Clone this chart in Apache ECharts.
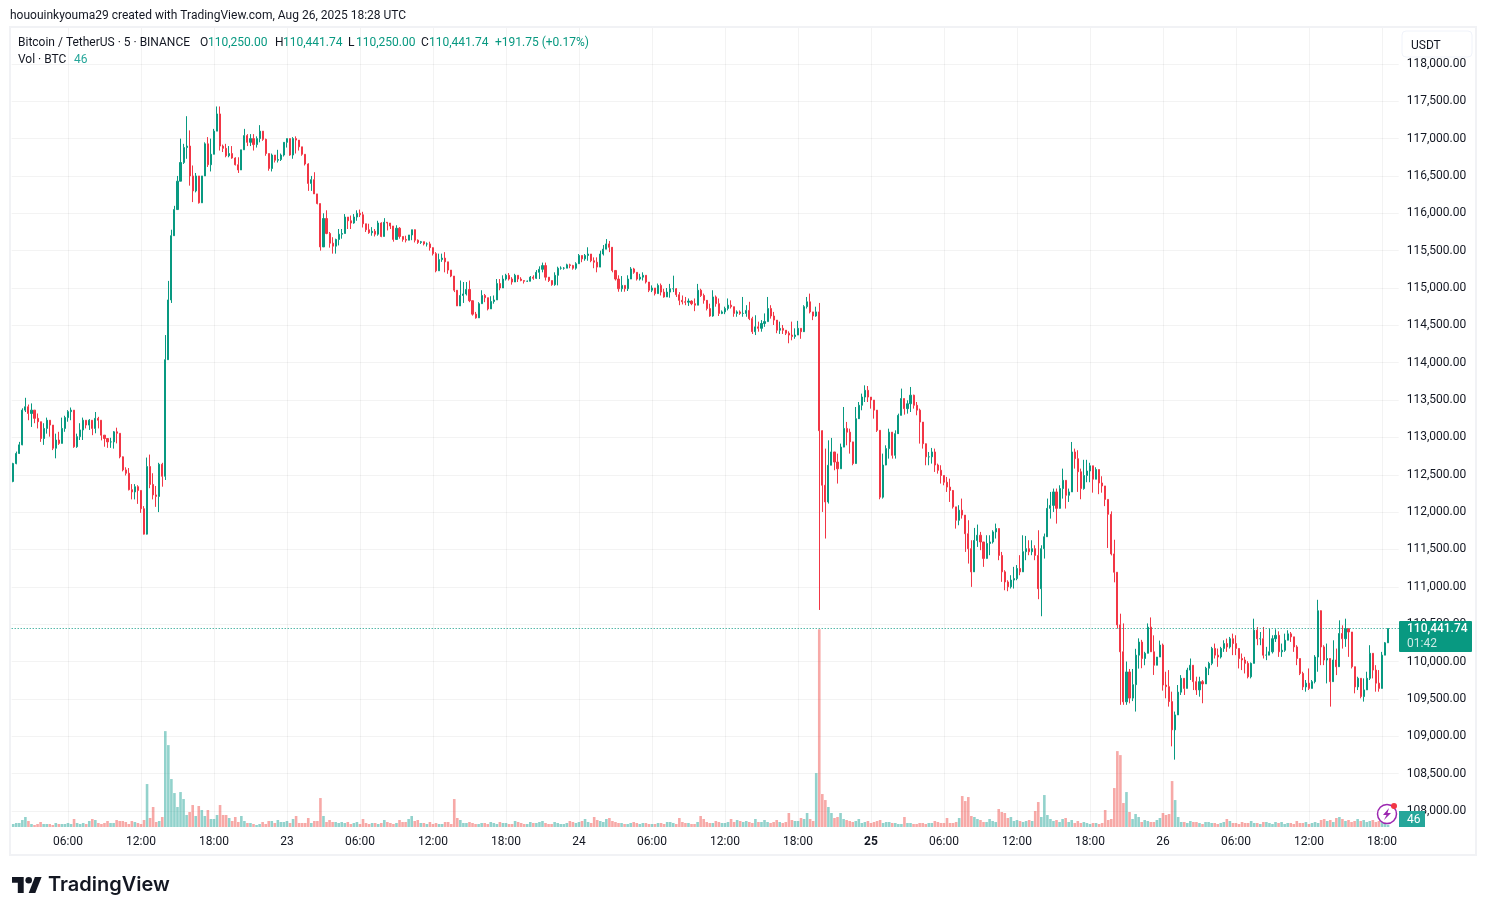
<!DOCTYPE html>
<html><head><meta charset="utf-8"><style>html,body{margin:0;padding:0;background:#fff}#c{width:1486px;height:915px}</style>
<script src="https://cdn.jsdelivr.net/npm/echarts@6/dist/echarts.min.js"></script></head><body><div id="c"></div><script>
// 15-minute candles: [open, close, low, high]
const aug22=[
[112410,112650,112400,112660],[112650,112785,112640,112810],[112785,112900,112780,112940],[112900,113365,112895,113390],[113365,113410,113340,113530],[113410,113320,113230,113440],
[113320,113365,113140,113455],[113365,113255,113190,113365],[113255,113210,113120,113320],[113210,112985,112940,113210],[112985,113120,112900,113190],[113120,113230,113050,113265],
[113230,113165,113010,113230],[113165,112855,112830,113165],[112855,112965,112720,113050],[112965,112920,112900,113075],[112920,113120,112920,113265],[113120,113265,113075,113290],
[113265,113345,113210,113365],[113345,113365,113230,113400],[113365,112875,112860,113365],[112875,113010,112860,113050],[113010,113100,112965,113190],[113100,113230,112965,113265],
[113230,113165,113120,113230],[113165,113230,113100,113245],[113230,113120,113030,113230],[113120,113255,113055,113340],[113255,113230,113120,113275],[113230,113030,112960,113230],
[113030,112985,112875,113030],[112985,112940,112860,112985],[112940,112940,112860,112995],[112940,113075,112850,113085],[113075,113055,112920,113130],[113055,112740,112720,113055],
[112740,112565,112545,112745],[112565,112520,112490,112600],[112520,112300,112290,112590],[112300,112270,112170,112375],[112270,112340,112170,112375],[112340,112290,112110,112360],
[112290,112045,111990,112290],[112045,111705,111700,112080],[111705,112610,111700,112730],[112610,112370,112320,112770],[112370,112230,112170,112520],[112230,112210,112070,112350],
[112210,112640,112000,112660],[112640,112480,112340,112660],[112480,114040,112430,114370],[114040,114840,114040,115095],[114840,115700,114800,115780],[115700,116050,115700,116100],
[116050,116430,116050,116500],[116430,116680,116430,117000],[116680,116880,116660,116930],[116880,116900,116730,117300],[116900,116500,116370,117110],[116500,116300,116150,116640],
[116300,116500,116280,116540],[116500,116140,116130,116500],[116140,116500,116140,116500],[116500,116930,116500,116950],[116930,116650,116620,117020],[116650,116790,116560,117000],
[116790,117100,116790,117130],[117100,117330,117100,117430],[117330,116900,116840,117430],[116900,116870,116820,116920],[116870,116770,116750,116930],[116770,116800,116750,116900],
[116800,116740,116730,116900],[116740,116650,116640,116750],[116650,116580,116540,116750],[116580,116850,116580,116850],[116850,117040,116850,117130],[117040,116950,116900,117060],
[116950,117000,116900,117060],[117000,116920,116840,117060],[116920,117000,116880,117030],[117000,117100,116950,117180],[117100,116990,116970,117100],[116990,116800,116770,117000],
[116800,116600,116570,116800],[116600,116780,116560,116800],[116780,116710,116680,116780],[116710,116720,116680,116850],[116720,116780,116700,116800],[116780,116950,116760,116950]];
const aug23=[
[116950,117000,116880,117000],[117000,116780,116770,117000],[116780,117000,116730,117020],[117000,116980,116800,117030],[116980,116890,116840,116980],[116890,116790,116770,116890],
[116790,116660,116640,116790],[116660,116400,116300,116670],[116400,116450,116300,116500],[116450,116260,116260,116550],[116260,116130,116120,116260],[116130,115550,115500,116130],
[115550,115930,115550,116000],[115930,115730,115720,116040],[115730,115600,115540,115750],[115600,115560,115460,115680],[115560,115650,115460,115660],[115650,115720,115570,115790],
[115720,115730,115660,115790],[115730,115950,115730,115990],[115950,115900,115790,115950],[115900,115870,115790,115970],[115870,115950,115860,115990],[115950,116000,115900,116040],
[116000,115980,115950,116050],[115980,115860,115810,116020],[115860,115780,115750,115860],[115780,115740,115725,115860],[115740,115760,115700,115815],[115760,115720,115690,115790],
[115720,115870,115700,115900],[115870,115690,115680,115880],[115690,115880,115690,115935],[115880,115870,115770,115880],[115870,115830,115790,115870],[115830,115650,115620,115830],
[115650,115800,115650,115840],[115800,115690,115660,115815],[115690,115650,115620,115690],[115650,115640,115610,115700],[115640,115710,115640,115710],[115710,115780,115640,115780],
[115780,115640,115610,115725],[115640,115610,115590,115650],[115610,115620,115590,115630],[115620,115590,115570,115620],[115590,115590,115555,115610],[115590,115540,115500,115620],
[115540,115460,115435,115515],[115460,115230,115210,115480],[115230,115380,115230,115460],[115380,115400,115350,115460],[115400,115350,115210,115480],[115350,115240,115190,115350],
[115240,115160,115145,115240],[115160,114970,114945,115160],[114970,114760,114760,114970],[114760,114900,114760,115100],[114900,114920,114800,115080],[114920,114980,114900,115080],
[114980,114830,114810,115100],[114830,114650,114630,114830],[114650,114600,114590,114680],[114600,114790,114600,114810],[114790,114900,114790,114970],[114900,114870,114810,114920],
[114870,114720,114700,114870],[114720,114820,114720,114890],[114820,114840,114790,114900],[114840,115060,114840,115120],[115060,115000,114970,115120],[115000,115120,115000,115170],
[115120,115170,115100,115190],[115170,115120,115100,115200],[115120,115080,115045,115145],[115080,115170,115080,115190],[115170,115120,115080,115170],[115120,115100,115090,115145],
[115100,115090,115060,115100],[115090,115090,115080,115100],[115090,115145,115090,115160],[115145,115130,115110,115170],[115130,115210,115120,115240],[115210,115250,115120,115290],
[115250,115300,115210,115340],[115300,115145,115100,115340],[115145,115100,115080,115145],[115100,115045,115030,115100],[115045,115170,115030,115210],[115170,115265,115035,115285],
[115265,115265,115245,115290],[115265,115265,115245,115280],[115265,115310,115265,115325],[115310,115300,115265,115325],[115300,115265,115245,115310],[115265,115325,115245,115345]];
const aug24=[
[115325,115435,115325,115455],[115435,115390,115345,115435],[115390,115435,115365,115455],[115435,115455,115365,115545],[115455,115365,115345,115455],[115365,115345,115265,115410],
[115345,115280,115210,115410],[115280,115455,115300,115500],[115455,115520,115435,115575],[115520,115590,115545,115655],[115590,115545,115480,115630],[115545,115235,115210,115520],
[115235,115120,115100,115235],[115120,114990,114950,115170],[114990,115035,114950,115160],[115035,114990,114950,115035],[114990,115120,114960,115170],[115120,115255,115120,115280],
[115255,115210,115190,115270],[115210,115120,115100,115210],[115120,115145,115100,115190],[115145,115170,115100,115210],[115170,115080,115060,115170],[115080,114970,114945,115080],
[114970,115000,114945,115035],[115000,114925,114900,115000],[114925,115035,114925,115060],[115035,114945,114900,115060],[114945,114880,114870,114990],[114880,114945,114880,115000],
[114945,114990,114870,115055],[114990,114990,114945,115165],[114990,114910,114880,115000],[114910,114835,114770,114945],[114835,114815,114780,114900],[114815,114810,114770,114880],
[114810,114825,114760,114860],[114825,114790,114770,114835],[114790,114770,114690,114860],[114770,114970,114770,115055],[114970,114900,114880,114990],[114900,114835,114790,114925],
[114835,114725,114700,114790],[114725,114625,114615,114790],[114625,114880,114615,114970],[114880,114790,114750,114900],[114790,114660,114625,114860],[114660,114680,114650,114700],
[114680,114725,114650,114750],[114725,114770,114700,114860],[114770,114750,114725,114835],[114750,114660,114615,114750],[114660,114680,114615,114700],[114680,114660,114640,114700],
[114660,114660,114615,114880],[114660,114700,114615,114770],[114700,114590,114570,114815],[114590,114415,114385,114615],[114415,114480,114370,114635],[114480,114460,114415,114550],
[114460,114525,114415,114570],[114525,114550,114480,114660],[114550,114725,114550,114880],[114725,114625,114590,114770],[114625,114570,114505,114680],[114570,114435,114395,114505],
[114435,114460,114385,114550],[114460,114435,114385,114505],[114435,114395,114370,114435],[114395,114370,114260,114420],[114370,114350,114300,114550],[114350,114370,114320,114460],
[114370,114460,114370,114560],[114460,114415,114320,114460],[114415,114750,114460,114770],[114750,114815,114725,114880],[114815,114680,114660,114925],[114680,114625,114570,114680],
[114625,114680,114615,114750],[114680,113090,110690,114800],[113090,112360,112002,113095],[112360,112136,111646,112850],[112136,112627,112114,112961],[112627,112805,112627,112993],
[112805,112670,112560,112805],[112670,112580,112382,112783],[112580,112870,112580,112917],[112870,113120,112872,113407],[113120,113070,112894,113207],[113070,112940,112783,113117],
[112940,112650,112627,112917],[112650,113250,112649,113407],[113250,113430,113274,113474],[113430,113540,113363,113586],[113540,113630,113474,113697],[113630,113540,113474,113688]];
const aug25=[
[113540,113500,113385,113540],[113500,113365,113251,113497],[113365,113095,113073,113251],[113095,112200,112172,113095],[112200,112630,112181,112783],[112630,112850,112627,112894],
[112850,113070,112716,113117],[113070,112760,112716,113073],[112760,113050,112716,113095],[113050,113295,113073,113318],[113295,113520,113296,113653],[113520,113385,113305,113519],
[113385,113450,113318,113497],[113450,113565,113340,113675],[113565,113430,113385,113572],[113430,113365,113296,113474],[113365,113205,112917,113385],[113205,112915,112850,113064],
[112915,112740,112627,112850],[112740,112740,112627,112805],[112740,112805,112649,112859],[112805,112630,112538,112850],[112630,112560,112515,112649],[112560,112490,112382,112627],
[112490,112400,112359,112493],[112400,112335,112270,112471],[112335,112290,112136,112448],[112290,112070,112047,112181],[112070,111890,111779,112070],[111890,112025,111824,112092],
[112025,111960,111913,112181],[111960,111710,111467,111958],[111710,111510,111311,111891],[111510,111200,110999,111623],[111200,111620,111200,111788],[111620,111690,111534,111833],
[111690,111600,111490,111735],[111600,111380,111267,111579],[111380,111580,111378,111690],[111580,111600,111423,111690],[111600,111735,111579,111757],[111735,111780,111646,111846],
[111780,111420,111356,111779],[111420,111200,111066,111467],[111200,111065,110954,111222],[111065,111000,110941,111088],[111000,111090,110977,111155],[111090,111110,110977,111267],
[111110,111245,111088,111291],[111245,111200,111155,111423],[111200,111470,111200,111690],[111470,111510,111356,111681],[111510,111470,111423,111623],[111470,111510,111423,111623],
[111510,111420,111356,111556],[111420,110975,110834,111757],[110975,111510,110606,111556],[111510,111670,111378,111713],[111670,112050,111668,112181],[112050,112090,111913,112270],
[112090,112270,112002,112315],[112270,112050,111846,112315],[112050,112315,112047,112359],[112315,112425,112181,112582],[112425,112225,112047,112426],[112225,112270,112136,112315],
[112270,112805,112270,112939],[112805,112715,112582,112850],[112715,112540,112270,112828],[112540,112315,112172,112582],[112315,112490,112300,112700],[112490,112550,112400,112700],
[112550,112620,112400,112660],[112620,112440,112260,112620],[112440,112570,112440,112600],[112570,112390,112240,112570],[112390,112350,112260,112480],[112350,112170,112080,112350],
[112170,111970,111520,112170],[111970,111440,111420,112010],[111440,111195,111060,111630],[111195,110490,110440,111195],[110490,110130,109420,110640],[110130,109460,109420,110510],
[109460,109860,109420,110000],[109860,109510,109440,109900],[109510,109690,109470,109900],[109690,110085,109330,110170],[110085,110260,109905,110310],[110260,110040,109910,110290],
[110040,110110,109950,110130],[110110,110460,110110,110510],[110460,110130,110130,110590],[110130,109950,109820,110350],[109950,110060,109950,110040],[110060,110220,110060,110280]];
const aug26=[
[110220,109685,109610,110240],[109685,109663,109507,109863],[109663,109463,109396,109885],[109463,109085,108864,109596],[109085,109285,108686,109330],[109285,109590,109285,109685],
[109590,109775,109552,109818],[109775,109640,109552,109774],[109640,109885,109640,109916],[109885,109950,109752,110040],[109950,109730,109618,109950],[109730,109620,109552,109796],
[109620,109730,109529,109796],[109730,109700,109441,109752],[109700,109910,109700,109929],[109910,109975,109818,109996],[109975,110175,109951,110196],[110175,110085,110040,110240],
[110085,110060,109929,110173],[110060,110175,110040,110196],[110175,110240,110129,110284],[110240,110195,110129,110307],[110195,110305,110173,110329],[110305,110240,110085,110373],
[110240,110175,110085,110351],[110175,110040,109907,110173],[110040,110020,109885,110107],[110020,109975,109840,110062],[109975,109795,109774,110005],[109795,109975,109774,109987],
[109975,110420,109974,110573],[110420,110305,110218,110462],[110305,110305,110218,110395],[110305,110085,110040,110462],[110085,110085,110018,110196],[110085,110130,110085,110440],
[110130,110305,110107,110351],[110305,110350,110262,110431],[110350,110130,110062,110404],[110130,110150,110062,110240],[110150,110285,110129,110373],[110285,110370,110284,110418],
[110370,110330,110262,110395],[110330,110195,110129,110330],[110195,110040,109951,110218],[110040,109840,109818,110040],[109840,109660,109618,109863],[109660,109710,109596,109752],
[109710,109640,109618,109907],[109640,109730,109640,109752],[109730,110060,109707,110085],[110060,110680,109863,110826],[110680,110195,109951,110684],[110195,110020,109951,110218],
[110020,110040,109707,110240],[110040,109730,109396,110040],[109730,110020,109729,110284],[110020,109930,109818,110173],[109930,110375,109930,110551],[110375,110305,110173,110484],
[110305,110440,110196,110573],[110440,110395,110062,110440],[110395,109930,109907,110395],[109930,109660,109574,109929],[109660,109775,109618,109796],[109775,109530,109507,109775],
[109530,109620,109463,109774],[109620,109775,109618,109863],[109775,110110,109752,110218],[110110,109885,109774,110110],[109885,109710,109596,109951],[109710,109640,109596,109885],
[109640,110085,109640,110129],[110085,110250,110085,110260],[110250,110441.74,110250,110441.74]];
// volume in BTC
const vol22=[60,80,80,140,200,120, 60,40,60,100,60,60, 60,40,80,60,60,60, 80,60,160,80,60,80, 60,120,160,140,80,60, 80,120,80,80,140,120, 120,100,60,120,100,80, 60,140,860,180,400,100, 120,200,1920,1640,960,680, 400,700,560,240,300,440, 220,420,340,220,340,160, 160,240,440,240,240,180, 120,200,100,220,120,80, 80,60,40,60,100,60, 120,120,80,140,100,100];
const vol23=[120,80,160,220,80,80, 80,180,80,120,120,580, 220,100,140,100,100,80, 100,80,100,60,80,100, 60,160,80,60,80,80, 60,80,140,100,80,60, 80,140,100,100,160,220, 120,140,80,80,60,100, 60,80,60,60,100,100, 60,560,180,140,80,80, 100,80,60,60,80,80, 60,100,80,60,100,80, 80,60,60,120,100,80, 60,60,100,80,80,100, 120,80,60,60,100,80, 60,60,80,120,100,80];
const vol24=[100,120,160,100,80,200, 140,120,100,160,180,120, 100,80,80,60,60,80, 100,80,60,80,80,60, 60,60,80,80,60,100, 100,80,60,180,100,80, 80,60,60,100,220,160, 100,80,80,120,100,80, 80,100,160,100,140,120, 100,120,100,80,160,100, 100,140,100,80,100,140, 100,80,100,280,140,120, 120,180,160,280,160,120, 1080,3960,660,540,400,280, 180,200,280,160,140,120, 100,120,160,80,100,120];
const vol25=[80,100,120,140,80,100, 100,80,80,60,60,200, 80,80,60,60,80,80, 60,80,80,120,100,80, 80,180,80,80,100,180, 620,520,600,220,200,160, 140,100,100,160,120,100, 360,300,280,180,200,120, 140,120,100,120,140,120, 320,500,200,640,240,160, 120,140,100,160,180,100, 140,80,120,80,100,80, 60,80,80,60,80,340, 140,160,780,1520,1440,480, 700,300,160,260,200,100, 140,120,100,100,140,180];
const vol26=[280,240,260,920,540,200, 100,100,80,120,100,100, 80,60,100,100,80,80, 60,80,100,160,120,80, 80,60,100,80,80,120, 80,80,60,100,100,80, 60,100,80,100,60,80, 80,60,120,80,80,100, 60,80,100,80,140,160, 120,140,100,180,200,160, 120,140,100,120,160,120, 140,100,120,140,100,120, 100,80,46];
const priceTicks={min:107500,max:118500,interval:500};
const dayLabels={0:'22',1:'23',2:'24',3:'25',4:'26'};
const lastPrice=110441.74;

const candles=[...aug22,...aug23,...aug24,...aug25,...aug26];
const volumes=[...vol22,...vol23,...vol24,...vol25,...vol26];
const categories=[];
for(let k=0;k<456;k++){const q=k+6,d=Math.floor(q/96),m=(q%96)*15,h=Math.floor(m/60),mm=m%60;
  categories.push(m===0?dayLabels[d]:String(h).padStart(2,'0')+':'+String(mm).padStart(2,'0'));}
const every6h=i=>(i-18)%24===0;
const UP='#089981',DOWN='#f23645',INK='#131722',GRID='rgba(46,46,46,0.06)',FONT='Roboto, sans-serif';
const volData=volumes.map((v,i)=>({value:v,itemStyle:{color:candles[i][1]>=candles[i][0]?'rgba(38,166,154,0.5)':'rgba(239,83,80,0.5)'}}));
const txt=(x,y,text,fill,extra)=>({type:'text',x:x,y:y,z:110,style:Object.assign({text,fill,font:'12px '+FONT},extra||{})});
const legend=[['O',200,INK],['110,250.00',208,UP],['H',275,INK],['110,441.74',283,UP],['L',348,INK],['110,250.00',356,UP],['C',421,INK],['110,441.74',429,UP],['+191.75 (+0.17%)',495,UP]];
const chart=echarts.init(document.getElementById('c'),null,{renderer:'canvas'});
chart.setOption({animation:false,backgroundColor:'#fff',textStyle:{fontFamily:FONT},
 grid:[{left:11.7,width:1387,top:26.55,height:821.7},{left:11.7,width:1387,top:28,height:799}],
 xAxis:[{type:'category',gridIndex:0,data:categories,show:false},
  {type:'category',gridIndex:1,data:categories,axisLine:{show:false},axisTick:{show:false},
   axisLabel:{interval:every6h,color:INK,fontSize:12,margin:9,fontFamily:FONT,hideOverlap:false,
     formatter:v=>v==='25'?'{b|25}':v,rich:{b:{fontWeight:'bold',fontSize:12,color:INK,fontFamily:FONT}}},
   splitLine:{show:true,interval:every6h,alignWithLabel:true,lineStyle:{color:GRID,width:1}}}],
 yAxis:[{type:'value',gridIndex:0,position:'right',min:priceTicks.min,max:priceTicks.max,interval:priceTicks.interval,
   axisLine:{show:false},axisTick:{show:false},
   axisLabel:{showMinLabel:false,showMaxLabel:false,color:INK,fontSize:12,margin:8,padding:[2,0,0,0],fontFamily:FONT,
     formatter:v=>v.toLocaleString('en-US',{minimumFractionDigits:2,maximumFractionDigits:2})},
   splitLine:{show:true,showMinLine:false,showMaxLine:false,lineStyle:{color:GRID,width:1}}},
  {type:'value',gridIndex:1,min:0,max:16000,show:false,splitLine:{show:false}}],
 series:[
  {type:'bar',xAxisIndex:1,yAxisIndex:1,data:volData,barWidth:2.6,z:1,silent:true},
  {type:'candlestick',xAxisIndex:0,yAxisIndex:0,data:candles,barWidth:1.6,z:3,silent:true,clip:false,
   itemStyle:{color:UP,color0:DOWN,borderColor:UP,borderColor0:DOWN,borderWidth:1},
   markLine:{silent:true,symbol:'none',label:{show:false},animation:false,
    lineStyle:{color:UP,type:[1,2],width:1,opacity:1},data:[{yAxis:lastPrice}]}}
 ],
 graphic:{elements:[
  {type:'rect',z:1,shape:{x:10,y:27,width:1466,height:828},style:{fill:'none',stroke:'#f1f2f5',lineWidth:2}},
  txt(10,10,'hououinkyouma29 created with TradingView.com, Aug 26, 2025 18:28 UTC',INK),
  txt(18,37,'Bitcoin / TetherUS · 5 · BINANCE',INK),
  ...legend.map(l=>txt(l[1],37,l[0],l[2])),
  txt(18,54,'Vol · BTC',INK),txt(74,54,'46','#26a69a'),
  {type:'rect',z:108,shape:{x:1402,y:31,width:70,height:26,r:4},style:{fill:'#fff',stroke:'#f0f3fa',lineWidth:1}},
  txt(1411,40,'USDT',INK),
  {type:'rect',z:108,shape:{x:1399,y:621,width:73,height:31,r:1},style:{fill:UP}},
  txt(1407,623,'110,441.74','#fff',{font:'500 12px '+FONT}),
  txt(1407,638,'01:42','rgba(255,255,255,0.8)'),
  {type:'rect',z:108,shape:{x:1399,y:811,width:26,height:16},style:{fill:'#26a69a'}},
  txt(1407,814,'46','#fff'),
  {type:'circle',z:108,shape:{cx:1387,cy:814,r:9.5},style:{fill:'#fff',stroke:'#9c27b0',lineWidth:1.5}},
  {type:'polygon',z:109,shape:{points:[[1389,808],[1383,815],[1386.5,815],[1384,820],[1391,813],[1387.5,813]]},style:{fill:'#9c27b0'}},
  {type:'circle',z:110,shape:{cx:1394,cy:806,r:3},style:{fill:'#f23645'}},
  {type:'polygon',z:110,shape:{points:[[12,877],[23.7,877],[23.7,893],[17.8,893],[17.8,882.8],[12,882.8]]},style:{fill:'#131722'}},
  {type:'polygon',z:110,shape:{points:[[28.7,893],[34.9,877],[41.6,877],[35.3,893]]},style:{fill:'#131722'}},
  {type:'circle',z:110,shape:{cx:28.7,cy:880.3,r:3.3},style:{fill:'#131722'}},
  txt(48,875,'TradingView','#131722',{font:'600 20px Inter, sans-serif'})
 ]}
});
</script></body></html>
